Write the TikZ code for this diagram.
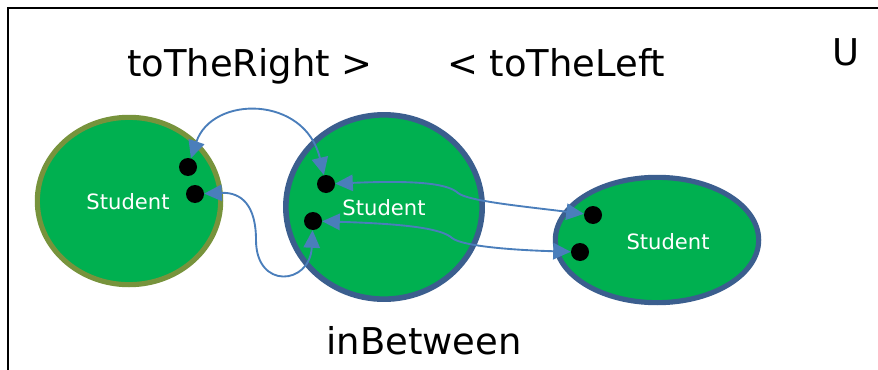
\documentclass[tikz,border=0pt]{standalone}
\usepackage{fontspec}
\setmainfont{DejaVu Sans}
\usetikzlibrary{shapes.geometric,arrows.meta}

\definecolor{setgreen}{HTML}{00B050}
\definecolor{leftring}{HTML}{77933C}
\definecolor{ringblue}{HTML}{3B5E8E}
\definecolor{linkblue}{HTML}{4A7EBB}

\begin{document}
\begin{tikzpicture}
  [x=0.03cm,y=-0.03cm,
   group/.style={ellipse,fill=setgreen,inner sep=0pt},
   dot/.style={circle,fill=black,minimum size=0.54cm,inner sep=0pt},
   lbl/.style={text=white,font=\fontsize{18}{20}\selectfont},
   big/.style={anchor=base,font=\fontsize{31.5}{36}\selectfont},
   link/.style={linkblue,line width=1.6pt,
     {Triangle[length=15pt,width=14pt]}-{Triangle[length=15pt,width=14pt]}}]
  \useasboundingbox (0,0) rectangle (878,370);

  % universe frame, only its top left corner shows
  \draw[line width=1.7pt] (8,400) -- (8,8) -- (900,8);

  \node[big] (right) at (250,77) {toTheRight >};
  \node[big] (left) at (556,77) {< toTheLeft};
  \node[big] (u) at (846,66) {U};
  \node[big] (between) at (424,354) {inBetween};

  % the three students
  \node[group,draw=leftring,line width=4.4pt,minimum width=5.5cm,minimum height=5.02cm] (s1) at (129,201) {};
  \node[group,draw=ringblue,line width=4.8pt,minimum width=5.89cm,minimum height=5.53cm] (s2) at (384,207) {};
  \node[group,draw=ringblue,line width=4.4pt,minimum width=6.1cm,minimum height=3.76cm] (s3) at (657,240) {};

  \node[lbl] (n1) at (128,202) {Student};
  \node[lbl] (n2) at (384,208) {Student};
  \node[lbl] (n3) at (668,242) {Student};

  \node[dot] (a1) at (188,167) {};
  \node[dot] (a2) at (195,194) {};
  \node[dot] (b1) at (326,184) {};
  \node[dot] (b2) at (313,221) {};
  \node[dot] (c1) at (593,215) {};
  \node[dot] (c2) at (580,252) {};

  \draw[link] (a1) .. controls (212,95) and (305,95) .. (b1);
  \draw[link] (a2) .. controls (242,192) and (256,206) .. (256,240)
    .. controls (256,290) and (310,285) .. (b2);
  \draw[link] (b1) .. controls (420,180) and (448,184) .. (458,193)
    .. controls (468,201) and (520,206) .. (c1);
  \draw[link] (b2) .. controls (410,224) and (442,229) .. (452,238)
    .. controls (462,246) and (510,250) .. (c2);

\end{tikzpicture}
\end{document}
